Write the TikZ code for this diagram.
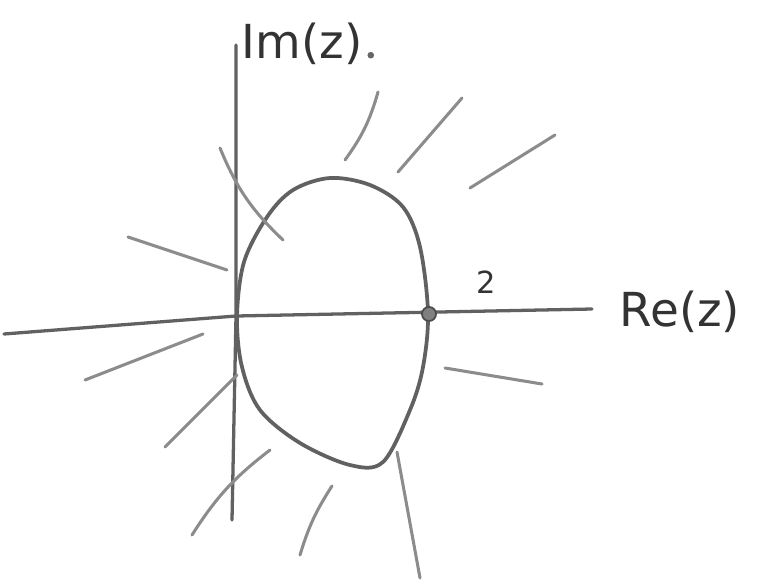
\documentclass[tikz,border=0pt]{standalone}
\usepackage{fontspec}
\setmainfont{DejaVu Sans}
\usepackage{tikz}
\usetikzlibrary{positioning}

\begin{document}
\begin{tikzpicture}[x=0.03cm,y=-0.03cm,
pencil/.style={draw=black!62,line width=2.8pt,line cap=round,line join=round},
hatch/.style={draw=black!45,line width=2.6pt,line cap=round},
lbl/.style={text=black!80,font=\fontsize{40}{44}\selectfont,inner sep=0pt}]
\useasboundingbox (0,0) rectangle (769,583);
% axes
\coordinate (o) at (236,316);
\coordinate (ytop) at (236,45);
\coordinate (ybot) at (232,520);
\coordinate (xleft) at (4,334);
\coordinate (xright) at (592,309);
\draw[pencil] (ybot) -- (o) -- (ytop);
\draw[pencil] (xleft) -- (o) -- (xright);
% boundary curve
\draw[pencil,line width=3.2pt] plot[smooth cycle,tension=0.55] coordinates {
(237,317) (244,262) (267,217) (293,190) (330,178) (370,185) (403,207) (420,247)
(428,313) (423,367) (410,410) (383,462) (350,465) (300,443) (260,410) (242,367)};
\node[circle,draw=black!70,fill=black!50,line width=1.5pt,minimum size=12pt,inner sep=0pt] (two) at (429,314) {};
% labels
\node[lbl] (im) at (302,44) {Im(z)};
\node[circle,fill=black!60,inner sep=2pt,right=4pt of im.base east,yshift=3pt] (dot) {};
\node[lbl,font=\fontsize{26}{30}\selectfont] (n2) at (486,282) {2};
\node[lbl] (re) at (680,312) {Re(z)};
% exterior strokes
\draw[hatch] (378,92) to[bend left=10] (345,160);
\draw[hatch] (462,98) -- (398,172);
\draw[hatch] (555,135) -- (470,188);
\draw[hatch] (220,148) to[bend right=12] (283,240);
\draw[hatch] (128,237) -- (227,270);
\draw[hatch] (85,380) -- (203,334);
\draw[hatch] (165,447) -- (237,375);
\draw[hatch] (192,535) to[bend left=10] (270,450);
\draw[hatch] (300,555) to[bend left=8] (332,486);
\draw[hatch] (397,452) -- (420,578);
\draw[hatch] (445,368) -- (542,384);
\end{tikzpicture}
\end{document}
